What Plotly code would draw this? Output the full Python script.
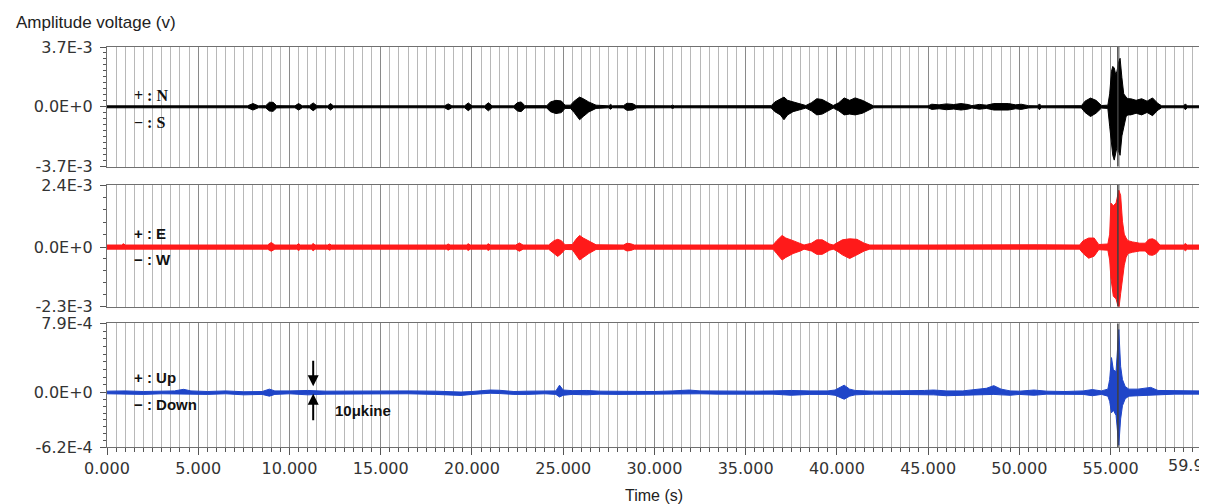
import numpy as np
import plotly.graph_objects as go

# ---------------- data (envelope of traces, units of 1e-4 V) ----------------
UNIT = 1e-4

ns_t = [0.0, 7.7, 8.0, 8.3, 8.7, 8.9, 9.1, 9.3,
        10.3, 10.5, 10.7, 11.1, 11.3, 11.5, 12.1, 12.25, 12.4,
        18.5, 18.7, 18.9, 19.6, 19.8, 20.0, 20.7, 20.9, 21.1,
        22.3, 22.5, 22.7, 22.9, 24.1, 24.3, 24.6, 24.9, 25.1,
        25.4, 25.6, 25.9, 26.1, 26.4, 26.8, 27.5, 27.6, 27.7,
        28.3, 28.5, 28.8, 29.0, 30.9, 31.0, 31.1, 32.4, 32.5, 32.6, 33.7, 33.8, 33.9,
        36.4, 36.6, 36.9, 37.1, 37.3, 37.6, 38.0, 38.3,
        38.6, 38.9, 39.2, 39.6, 39.8, 40.1, 40.4, 40.7, 41.0, 41.4, 41.8, 42.0,
        45.0, 45.2, 45.6, 46.0, 46.4, 46.8, 47.2, 47.4, 47.8, 48.2, 48.6, 49.0, 49.4, 49.8, 50.1, 50.5, 51.0, 51.1, 51.2,
        53.4, 53.6, 53.9, 54.2, 54.5, 54.85,
        54.95, 55.05, 55.12, 55.2, 55.28, 55.35, 55.45, 55.52, 55.62, 55.72, 55.85, 55.95,
        56.1, 56.4, 56.7, 57.0, 57.3, 57.6, 57.8, 59.0, 59.1, 59.2, 59.9]
ns_up = [0.6, 0.6, 2.0, 0.6, 0.7, 2.8, 2.8, 0.7,
         0.6, 2.0, 0.6, 0.7, 2.4, 0.7, 0.6, 2.0, 0.6,
         0.6, 1.8, 0.6, 0.6, 2.4, 0.6, 0.6, 2.5, 0.6,
         0.6, 2.6, 3.0, 0.7, 0.7, 3.0, 4.0, 3.6, 1.0,
         1.0, 3.5, 6.0, 5.0, 3.0, 1.0, 0.6, 1.5, 0.6,
         0.7, 2.2, 2.0, 0.7, 0.6, 1.0, 0.6, 0.6, 1.0, 0.6, 0.6, 1.0, 0.6,
         0.7, 3.0, 4.5, 6.0, 4.0, 3.0, 2.0, 0.8,
         2.5, 5.0, 4.5, 2.0, 0.8, 2.5, 5.5, 4.0, 5.5, 4.0, 1.5, 0.6,
         0.6, 1.6, 1.2, 1.8, 1.4, 2.0, 1.4, 0.7, 1.5, 1.0, 2.0, 2.2, 2.0, 1.2, 1.6, 0.7, 0.6, 1.8, 0.6,
         0.7, 3.5, 5.4, 4.0, 0.8, 1.0,
         8.0, 22.0, 25.0, 24.0, 20.0, 22.0, 28.0, 30.0, 18.0, 8.0, 6.0, 5.0,
         5.0, 4.0, 5.0, 3.5, 5.5, 2.0, 0.6, 0.6, 1.8, 0.6, 0.6]
ns_lo = [-0.6, -0.6, -2.0, -0.6, -0.7, -2.6, -2.8, -0.7,
         -0.6, -2.0, -0.6, -0.7, -2.4, -0.7, -0.6, -2.0, -0.6,
         -0.6, -1.8, -0.6, -0.6, -2.4, -0.6, -0.6, -2.5, -0.6,
         -0.6, -2.6, -3.0, -0.7, -0.7, -3.0, -4.2, -3.6, -1.0,
         -1.0, -3.5, -8.0, -6.0, -3.2, -1.0, -0.6, -1.5, -0.6,
         -0.7, -2.2, -2.0, -0.7, -0.6, -1.0, -0.6, -0.6, -1.0, -0.6, -0.6, -1.0, -0.6,
         -0.7, -3.0, -5.0, -8.0, -5.0, -3.0, -2.0, -0.8,
         -2.5, -5.0, -4.5, -2.0, -0.8, -2.5, -5.0, -4.5, -5.0, -4.0, -1.5, -0.6,
         -0.6, -1.6, -1.2, -1.8, -1.4, -2.0, -1.4, -0.7, -1.5, -1.0, -2.0, -2.2, -2.0, -1.2, -1.6, -0.7, -0.6, -1.8, -0.6,
         -0.7, -3.5, -6.0, -4.0, -0.8, -1.0,
         -12.0, -24.0, -30.0, -33.0, -28.0, -25.0, -28.0, -30.0, -18.0, -12.0, -6.0, -5.0,
         -5.0, -4.0, -5.0, -3.5, -5.5, -2.0, -0.6, -0.6, -1.8, -0.6, -0.6]

ew_t = [0.0, 0.8, 0.9, 1.0, 8.8, 9.0, 9.2, 10.4, 10.5, 10.6, 11.2, 11.3, 11.4, 12.1, 12.2, 12.3,
        18.6, 18.7, 18.8, 19.7, 19.8, 19.9, 20.8, 20.9, 21.0, 22.4, 22.6, 22.8,
        24.2, 24.5, 24.7, 24.9, 25.1, 25.5, 25.7, 25.9, 26.1, 26.4, 26.8, 28.3, 28.5, 28.7, 28.9,
        36.5, 36.7, 37.0, 37.2, 37.6, 38.0, 38.2, 38.6, 38.9, 39.2, 39.6, 39.8, 40.0, 40.3, 40.7, 41.1, 41.5, 41.8,
        45.0, 47.0, 49.0, 51.0, 53.3, 53.5, 53.8, 54.1, 54.35,
        54.85, 54.95, 55.02, 55.15, 55.3, 55.45, 55.55, 55.65, 55.75, 55.85, 55.95,
        56.2, 56.6, 56.9, 57.1, 57.3, 57.5, 57.7, 59.0, 59.1, 59.2, 59.9]
ew_up = [0.8, 0.8, 1.3, 0.8, 0.8, 1.8, 0.8, 0.8, 1.3, 0.8, 0.8, 1.4, 0.8, 0.8, 1.2, 0.8,
         0.8, 1.2, 0.8, 0.8, 1.3, 0.8, 0.8, 1.3, 0.8, 0.8, 1.6, 0.8,
         0.8, 2.5, 3.0, 2.5, 0.9, 1.0, 3.0, 4.5, 3.5, 2.5, 0.9, 0.8, 1.5, 1.3, 0.8,
         0.8, 2.5, 4.5, 3.5, 2.5, 1.5, 0.8, 1.5, 2.8, 2.8, 1.2, 0.8, 1.5, 2.8, 3.2, 3.0, 1.5, 0.8,
         0.8, 0.9, 1.0, 0.9, 0.8, 2.5, 3.5, 3.5, 1.0,
         1.2, 5.0, 17.0, 16.0, 17.0, 22.0, 20.0, 10.0, 5.0, 3.5, 2.5,
         2.0, 1.5, 1.5, 3.0, 3.2, 2.5, 0.8, 0.8, 1.4, 0.8, 0.8]
ew_lo = [-0.8, -0.8, -1.0, -0.8, -0.8, -1.6, -0.8, -0.8, -1.3, -0.8, -0.8, -1.4, -0.8, -0.8, -1.2, -0.8,
         -0.8, -1.2, -0.8, -0.8, -1.3, -0.8, -0.8, -1.3, -0.8, -0.8, -1.6, -0.8,
         -0.8, -2.5, -3.6, -2.5, -0.9, -1.0, -3.0, -5.0, -4.0, -2.5, -0.9, -0.8, -1.5, -1.3, -0.8,
         -0.8, -2.5, -5.0, -4.0, -2.5, -1.5, -0.8, -1.5, -2.8, -2.8, -1.2, -0.8, -1.5, -3.0, -4.4, -3.0, -1.5, -0.8,
         -0.8, -0.9, -1.0, -0.9, -0.8, -2.5, -4.3, -3.5, -1.0,
         -1.2, -5.0, -12.0, -19.0, -20.0, -24.0, -18.0, -12.0, -7.0, -4.0, -2.5,
         -2.0, -1.5, -1.5, -3.0, -3.2, -2.5, -0.8, -0.8, -1.4, -0.8, -0.8]

ud_t = [0.0, 1.0, 2.0, 3.0, 3.7, 4.2, 4.6, 5.5, 6.5, 7.5,
        8.5, 8.9, 9.2, 10.0, 11.0, 12.0, 13.5, 15.0, 16.5, 18.0,
        19.4, 20.0, 21.0, 21.5, 22.3, 23.0, 24.0, 24.6, 24.8, 25.0,
        25.5, 26.3, 27.0, 28.0, 29.0, 30.0, 31.0, 31.9, 32.5, 33.5,
        34.5, 35.5, 36.5, 37.5, 38.5, 39.5, 39.9, 40.4, 40.7, 41.0,
        42.0, 43.0, 44.0, 44.8, 45.3, 46.0, 46.9, 47.5, 48.2, 48.6,
        49.0, 49.5, 50.0, 50.8, 51.5, 52.5, 53.5, 54.0, 54.5, 54.85,
        54.95, 55.05, 55.15, 55.3, 55.45, 55.55, 55.65, 55.8, 56.0, 56.5,
        57.2, 57.6, 58.5, 59.9]
ud_up = [0.17, 0.2, 0.13, 0.2, 0.2, 0.38, 0.2, 0.13, 0.2, 0.1,
         0.13, 0.4, 0.2, 0.2, 0.25, 0.17, 0.2, 0.17, 0.2, 0.17,
         0.07, 0.13, 0.3, 0.27, 0.13, 0.17, 0.23, 0.2, 0.85, 0.3,
         0.23, 0.25, 0.17, 0.13, 0.17, 0.13, 0.2, 0.3, 0.2, 0.17,
         0.13, 0.17, 0.2, 0.25, 0.2, 0.2, 0.3, 0.85, 0.4, 0.25,
         0.17, 0.17, 0.2, 0.25, 0.3, 0.2, 0.2, 0.3, 0.5, 0.8,
         0.4, 0.2, 0.17, 0.3, 0.17, 0.13, 0.2, 0.35, 0.2, 0.4,
         1.5, 4.0, 2.6, 2.4, 7.2, 3.0, 1.5, 0.7, 0.4, 0.4,
         0.6, 0.25, 0.2, 0.2]
ud_lo = [-0.13, -0.17, -0.2, -0.13, -0.13, -0.1, -0.17, -0.2, -0.13, -0.25,
         -0.2, -0.4, -0.2, -0.13, -0.25, -0.17, -0.13, -0.17, -0.13, -0.2,
         -0.32, -0.2, -0.07, -0.1, -0.2, -0.2, -0.13, -0.2, -0.5, -0.3,
         -0.2, -0.25, -0.17, -0.2, -0.17, -0.2, -0.13, -0.1, -0.13, -0.17,
         -0.2, -0.17, -0.17, -0.3, -0.2, -0.2, -0.3, -0.75, -0.4, -0.25,
         -0.17, -0.17, -0.17, -0.2, -0.25, -0.35, -0.3, -0.2, -0.2, -0.2,
         -0.25, -0.3, -0.2, -0.3, -0.17, -0.17, -0.2, -0.35, -0.2, -0.4,
         -1.0, -2.3, -2.0, -2.6, -6.0, -3.0, -1.5, -0.7, -0.4, -0.35,
         -0.3, -0.25, -0.17, -0.17]

# axis ranges and tick labels
ns_range = [-3.7e-3, 3.7e-3]
ew_range = [-2.3e-3, 2.4e-3]
ud_range = [-6.2e-4, 7.9e-4]
ns_ticktext = ["-3.7E-3", "0.0E+0", "3.7E-3"]
ew_ticktext = ["-2.3E-3", "0.0E+0", "2.4E-3"]
ud_ticktext = ["-6.2E-4", "0.0E+0", "7.9E-4"]
x_tickvals = [0, 5, 10, 15, 20, 25, 30, 35, 40, 45, 50, 55, 59.9]
x_ticktext = ["0.000", "5.000", "10.000", "15.000", "20.000", "25.000", "30.000",
              "35.000", "40.000", "45.000", "50.000", "55.000", ""]
x_end_label = "59.9"
event_t = 55.4

# ---------------- figure ----------------
fig = go.Figure()

channels = [
    (ns_t, ns_up, ns_lo, "#000000", "x", "y"),
    (ew_t, ew_up, ew_lo, "#ff1a1a", "x2", "y2"),
    (ud_t, ud_up, ud_lo, "#1f45c8", "x3", "y3"),
]
for t, up, lo, col, xa, ya in channels:
    fig.add_trace(go.Scatter(x=t, y=[v * UNIT for v in lo], mode="lines",
                             line=dict(color=col, width=1), xaxis=xa, yaxis=ya,
                             hoverinfo="skip", showlegend=False))
    fig.add_trace(go.Scatter(x=t, y=[v * UNIT for v in up], mode="lines",
                             line=dict(color=col, width=1), fill="tonexty", fillcolor=col,
                             xaxis=xa, yaxis=ya, hoverinfo="skip", showlegend=False))

tickfont = dict(family="DejaVu Sans", size=16, color="#333333")
axcol = "#707070"


def xaxis_cfg(show):
    return dict(
        range=[0, 59.9], domain=[0, 1], showline=True, mirror=True, linecolor=axcol,
        linewidth=1, showgrid=True, gridcolor="#8a8a8a", gridwidth=1, zeroline=False,
        tickmode="array", tickvals=x_tickvals, ticktext=x_ticktext,
        ticks="outside" if show else "", ticklen=7, tickcolor="#555555",
        showticklabels=show, tickfont=tickfont, automargin=False,
        minor=dict(tick0=0, dtick=0.5, showgrid=True, gridcolor="#b8b8b8", gridwidth=1,
                   ticks="outside" if show else "", ticklen=4, tickcolor="#555555"),
    )


def yaxis_cfg(rng, txt, dom, xa, n_up, n_dn):
    minor_vals = list(np.linspace(0, rng[1], n_up + 1)) + list(np.linspace(0, rng[0], n_dn + 1))
    return dict(
        range=rng, domain=dom, anchor=xa, showline=True, mirror=True, linecolor=axcol,
        linewidth=1, showgrid=False, zeroline=False, tickmode="array",
        tickvals=[rng[0], 0, rng[1]], ticktext=txt, ticks="outside", ticklen=6,
        tickcolor="#555555", tickfont=tickfont, ticklabelstandoff=4, automargin=False,
        minor=dict(tickmode="array", tickvals=minor_vals, ticks="outside", ticklen=3,
                   tickcolor="#555555", showgrid=False),
    )


# the page body adds an 8 px offset, so the figure is 8 px smaller in each direction
fig.update_layout(
    width=1199, height=496,
    margin=dict(l=99, r=7, t=39, b=57),
    paper_bgcolor="white", plot_bgcolor="white",
    xaxis=dict(xaxis_cfg(False), anchor="y"),
    xaxis2=dict(xaxis_cfg(False), anchor="y2"),
    xaxis3=dict(xaxis_cfg(True), anchor="y3"),
    yaxis=yaxis_cfg(ns_range, ns_ticktext, [0.701, 1.0], "x", 10, 10),
    yaxis2=yaxis_cfg(ew_range, ew_ticktext, [0.351, 0.655], "x2", 5, 5),
    yaxis3=yaxis_cfg(ud_range, ud_ticktext, [0.0, 0.309], "x3", 9, 8),
)

# event marker line in each panel
for xa, ya in [("x", "y"), ("x2", "y2"), ("x3", "y3")]:
    fig.add_shape(type="line", xref=xa, yref=ya + " domain", x0=event_t, x1=event_t,
                  y0=0, y1=1, line=dict(color="#404040", width=1.5))

lab_font = dict(family="Liberation Sans", size=15, color="#111111")
serif_font = dict(family="Liberation Serif", size=16, color="#111111")
labels = [
    ("<b>+ : N</b>", 0.880, serif_font),
    ("<b>− : S</b>", 0.8125, serif_font),
    ("<b>+ : E</b>", 0.535, lab_font),
    ("<b>− : W</b>", 0.470, lab_font),
    ("<b>+ : Up</b>", 0.175, lab_font),
    ("<b>− : Down</b>", 0.1075, lab_font),
]
for txt, yp, fnt in labels:
    fig.add_annotation(text=txt, xref="paper", yref="paper", x=0.023, y=yp,
                       xanchor="left", yanchor="middle", showarrow=False, font=fnt)

# last x tick label, kept inside the page at the right edge
fig.add_annotation(text=x_end_label, xref="paper", yref="paper", x=1.0055, y=-0.045,
                   xanchor="right", yanchor="middle", showarrow=False, font=tickfont)

# 10 μkine scale arrows
fig.add_annotation(x=11.3, y=0.152, xref="x3", yref="paper", text="", showarrow=True,
                   ax=0, ay=-27, arrowhead=2, arrowsize=1.1, arrowwidth=2, arrowcolor="black")
fig.add_annotation(x=11.3, y=0.133, xref="x3", yref="paper", text="", showarrow=True,
                   ax=0, ay=28, arrowhead=2, arrowsize=1.1, arrowwidth=2, arrowcolor="black")
fig.add_annotation(text="<b>10μkine</b>", x=12.4, y=0.0925, xref="x3", yref="paper",
                   xanchor="left", yanchor="middle", showarrow=False, font=lab_font)

# titles
fig.add_annotation(text="Amplitude voltage (v)", xref="paper", yref="paper",
                   x=-0.085, y=1.06, xanchor="left", yanchor="middle", showarrow=False,
                   font=dict(family="Liberation Sans", size=17, color="#222222"))
fig.add_annotation(text="Time (s)", xref="paper", yref="paper", x=0.5, y=-0.12,
                   xanchor="center", yanchor="middle", showarrow=False,
                   font=dict(family="Liberation Sans", size=16, color="#222222"))

fig.write_html("out.html")
